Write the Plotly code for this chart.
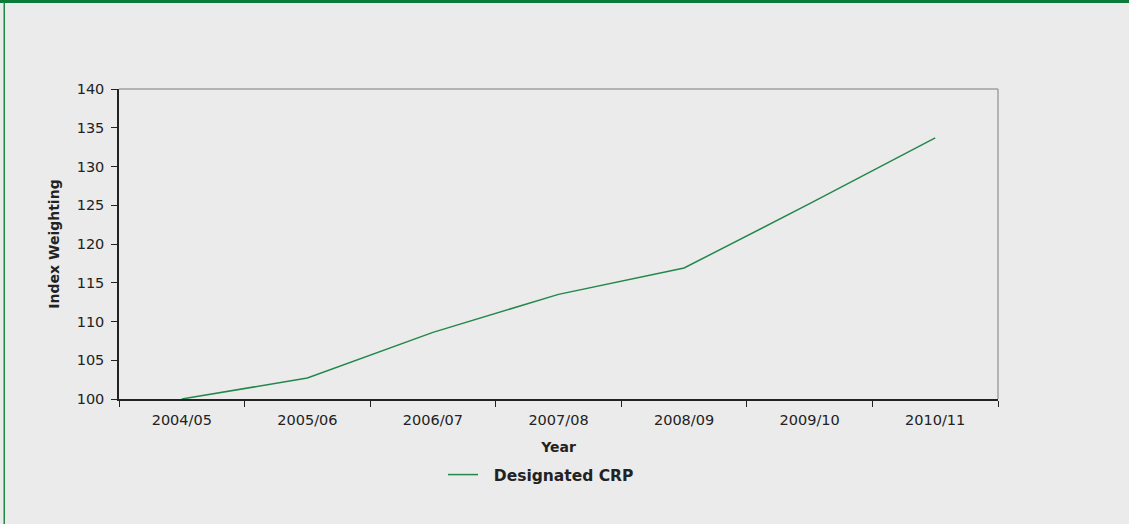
import plotly.graph_objects as go

years = ["2004/05", "2005/06", "2006/07", "2007/08", "2008/09", "2009/10", "2010/11"]
designated_crp = [100.0, 102.7, 108.6, 113.5, 116.9, 125.2, 133.7]
series_name = "Designated CRP"

W, H = 1129, 524
L, R, T, B = 119, 131, 89, 125
pw, ph = W - L - R, H - T - B

def px_x(x):
    return (x - L) / pw

def px_y(y):
    return (H - B - y) / ph

FONT = "DejaVu Sans"
GREEN = "#23874b"
BG = "#ebebeb"

fig = go.Figure()
fig.add_trace(go.Scatter(
    x=years, y=designated_crp, mode="lines", name="\u00a0\u00a0" + series_name,
    line=dict(color=GREEN, width=1.5),
))

shapes = [
    dict(type="line", xref="paper", yref="paper", x0=0, x1=1, y0=1, y1=1,
         line=dict(color="#a0a0a0", width=1.5)),
    dict(type="line", xref="paper", yref="paper", x0=1, x1=1, y0=0, y1=1,
         line=dict(color="#a0a0a0", width=1.5)),
    dict(type="rect", xref="paper", yref="paper", x0=px_x(0), x1=px_x(W), y0=px_y(3), y1=px_y(0),
         fillcolor="#0b7a3b", line=dict(width=0), layer="above"),
    dict(type="rect", xref="paper", yref="paper", x0=px_x(3.5), x1=px_x(5), y0=px_y(H), y1=px_y(2),
         fillcolor="#1f8a45", line=dict(width=0), layer="above"),
]

fig.update_layout(
    width=W, height=H,
    margin=dict(l=L, r=R, t=T, b=B, pad=0),
    paper_bgcolor=BG, plot_bgcolor=BG,
    font=dict(family=FONT, size=13, color="#222222"),
    showlegend=True,
    legend=dict(orientation="h", x=px_x(443), y=px_y(475), xanchor="left", yanchor="middle",
                font=dict(family=FONT, size=15.5, color="#222222", weight="bold"),
                bgcolor="rgba(0,0,0,0)"),
    shapes=shapes,
    xaxis=dict(
        type="category", tickson="boundaries", ticks="outside", ticklen=6,
        tickcolor="#222222", showline=True, linecolor="#222222", linewidth=1.5,
        showgrid=False, zeroline=False,
        tickfont=dict(size=14.5), ticklabelstandoff=7,
        title=dict(text="Year", font=dict(size=14, weight="bold"), standoff=15),
        range=[-0.5, 6.5],
    ),
    yaxis=dict(
        range=[100, 140], tickvals=[100, 105, 110, 115, 120, 125, 130, 135, 140],
        ticks="outside", ticklen=6, tickcolor="#222222",
        showline=True, linecolor="#222222", linewidth=1.5,
        showgrid=False, zeroline=False,
        tickfont=dict(size=14.5), ticklabelstandoff=4,
        title=dict(text="Index Weighting", font=dict(size=14, weight="bold"), standoff=14),
    ),
)

fig.write_html("out.html")
